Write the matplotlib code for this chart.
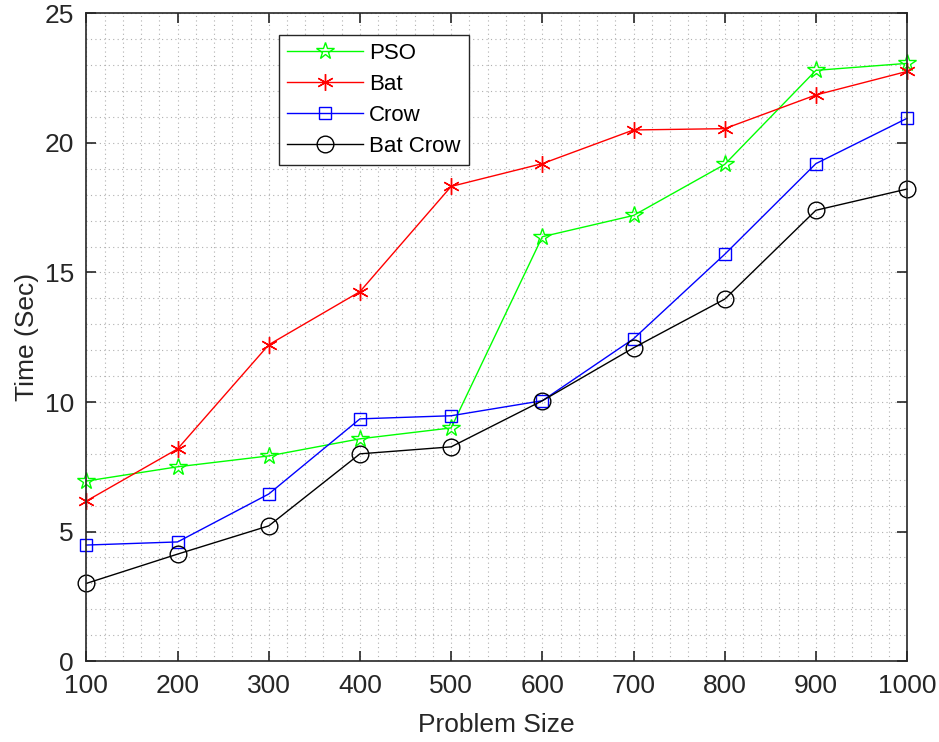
import numpy as np
from matplotlib import pyplot as plt
from matplotlib.ticker import MultipleLocator

plt.rcParams['font.family'] = ['Liberation Sans', 'DejaVu Sans']

size = [100, 200, 300, 400, 500, 600, 700, 800, 900, 1000]
pso = [6.95, 7.5, 7.92, 8.58, 9.0, 16.38, 17.2, 19.17, 22.8, 23.07]
bat = [6.18, 8.19, 12.21, 14.26, 18.32, 19.2, 20.5, 20.55, 21.85, 22.76]
crow = [4.48, 4.6, 6.45, 9.35, 9.47, 10.05, 12.44, 15.7, 19.2, 20.95]
batcrow = [3.0, 4.13, 5.22, 8.0, 8.27, 10.05, 12.09, 13.97, 17.4, 18.22]

fig = plt.figure(figsize=(9.39, 7.42), dpi=100)
ax = fig.add_axes([0.092, 0.109, 0.874, 0.873])

ax.plot(size, pso, '-', marker='*', mfc='none', ms=13, mew=1, lw=1, color='#00ff00', label='PSO', clip_on=False)
ax.plot(size, bat, '-', marker=(6, 2, 0), ms=12, mew=1, lw=1, color='red', label='Bat', clip_on=False)
ax.plot(size, crow, '-', marker='s', mfc='none', ms=9, mew=1, lw=1, color='blue', label='Crow', clip_on=False)
ax.plot(size, batcrow, '-', marker='o', mfc='none', ms=12, mew=1, lw=1, color='black', label='Bat Crow', clip_on=False)

ax.set_xlim(100, 1000)
ax.set_ylim(0, 25)
ax.set_xticks(size)
ax.set_yticks([0, 5, 10, 15, 20, 25])
ax.xaxis.set_minor_locator(MultipleLocator(20))
ax.yaxis.set_minor_locator(MultipleLocator(1))
ax.grid(True, which='both', linestyle=(0, (1, 3)), color='#b0b0b0', lw=0.8)
ax.tick_params(which='major', direction='in', top=True, right=True, length=7, width=1.2, labelsize=19, colors='#262626', pad=9)
ax.tick_params(which='minor', length=0, top=True, right=True)
for s in ax.spines.values():
    s.set_color('#262626')
    s.set_linewidth(1.2)

ax.set_xlabel('Problem Size', fontsize=19, color='#262626', labelpad=11)
ax.set_ylabel('Time (Sec)', fontsize=19, color='#262626', labelpad=4)

leg = ax.legend(loc='upper left', bbox_to_anchor=(0.235, 0.966), fontsize=16, fancybox=False,
                edgecolor='#262626', framealpha=1, handlelength=3.4, handletextpad=0.3,
                borderpad=0.35, labelspacing=0.45, borderaxespad=0)
leg.get_frame().set_linewidth(1.0)

plt.savefig('out.png', dpi=100)
